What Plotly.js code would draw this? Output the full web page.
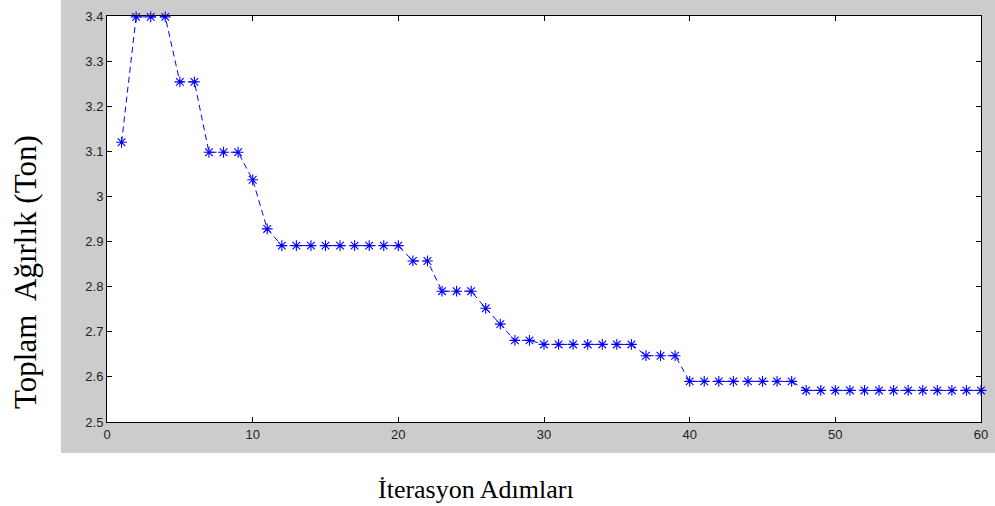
<!DOCTYPE html>
<html>
<head>
<meta charset="utf-8">
<script src="https://cdn.plot.ly/plotly-3.0.1.min.js"></script>
<style>html,body{margin:0;padding:0;background:#fff;}#chart{width:995px;height:506px;}</style>
</head>
<body>
<div id="chart"></div>
<script>
const iterations = [1,2,3,4,5,6,7,8,9,10,11,12,13,14,15,16,17,18,19,20,21,22,23,24,25,26,27,28,29,30,31,32,33,34,35,36,37,38,39,40,41,42,43,44,45,46,47,48,49,50,51,52,53,54,55,56,57,58,59,60];
const weights = [3.12,3.398,3.398,3.398,3.254,3.254,3.098,3.098,3.098,3.037,2.928,2.891,2.891,2.891,2.891,2.891,2.891,2.891,2.891,2.891,2.857,2.857,2.790,2.790,2.790,2.752,2.717,2.681,2.681,2.672,2.672,2.672,2.672,2.672,2.672,2.672,2.647,2.647,2.647,2.590,2.590,2.590,2.590,2.590,2.590,2.590,2.590,2.570,2.570,2.570,2.570,2.570,2.570,2.570,2.570,2.570,2.570,2.570,2.570,2.570];
const xTicks = [0,10,20,30,40,50,60];
const yTicks = [2.5,2.6,2.7,2.8,2.9,3.0,3.1,3.2,3.3,3.4];
const yTickText = ['2.5','2.6','2.7','2.8','2.9','3','3.1','3.2','3.3','3.4'];
const xTitle = 'İterasyon Adımları';
const yTitle = 'Toplam  Ağırlık (Ton)';

const W = 995, H = 506;
const m = {l:107, r:14, t:16, b:84};
const pw = W - m.l - m.r, ph = H - m.t - m.b;
const px = v => (v - m.l)/pw;
const py = v => (H - m.b - v)/ph;

const trace = {
  x: iterations, y: weights, type: 'scatter', mode: 'lines+markers',
  line: {color: '#0000ff', width: 1, dash: '6px,4px'},
  marker: {symbol: 'asterisk-open', size: 9, color: '#0000ff', line: {color: '#0000ff', width: 1.1}},
  cliponaxis: false, hoverinfo: 'skip'
};

const tickFont = {family: 'Arial, Liberation Sans, sans-serif', size: 13, color: '#222222'};
const serif = 'Liberation Serif, Times New Roman, serif';
const layout = {
  width: W, height: H, margin: m,
  paper_bgcolor: '#ffffff', plot_bgcolor: 'rgba(0,0,0,0)',
  showlegend: false,
  xaxis: {
    range: [0, 60], tickvals: xTicks, ticks: 'inside', ticklen: 5, tickcolor: '#000',
    showline: true, linecolor: '#000', linewidth: 1, mirror: 'ticks', showgrid: false, zeroline: false,
    tickfont: tickFont
  },
  yaxis: {
    range: [2.5, 3.4], tickvals: yTicks, ticktext: yTickText, ticks: 'inside', ticklen: 5, tickcolor: '#000',
    showline: true, linecolor: '#000', linewidth: 1, mirror: 'ticks', showgrid: false, zeroline: false,
    tickfont: tickFont
  },
  annotations: [
    {text: xTitle, xref: 'paper', yref: 'paper', x: px(476), y: py(489), xanchor: 'center', yanchor: 'middle', showarrow: false,
     font: {family: serif, size: 26, color: '#000'}},
    {text: yTitle, xref: 'paper', yref: 'paper', x: px(25), y: py(272), xanchor: 'center', yanchor: 'middle', showarrow: false, textangle: -90,
     font: {family: serif, size: 31, color: '#000'}}
  ],
  shapes: [
    {type: 'rect', xref: 'paper', yref: 'paper', x0: px(61), x1: px(995), y0: py(453), y1: py(0), fillcolor: '#cccccc', line: {width: 0}, layer: 'below'},
    {type: 'rect', xref: 'paper', yref: 'paper', x0: 0, x1: 1, y0: 0, y1: 1, fillcolor: '#ffffff', line: {width: 0}, layer: 'below'}
  ]
};
Plotly.newPlot('chart', [trace], layout, {staticPlot: true, displayModeBar: false});
</script>
</body>
</html>
